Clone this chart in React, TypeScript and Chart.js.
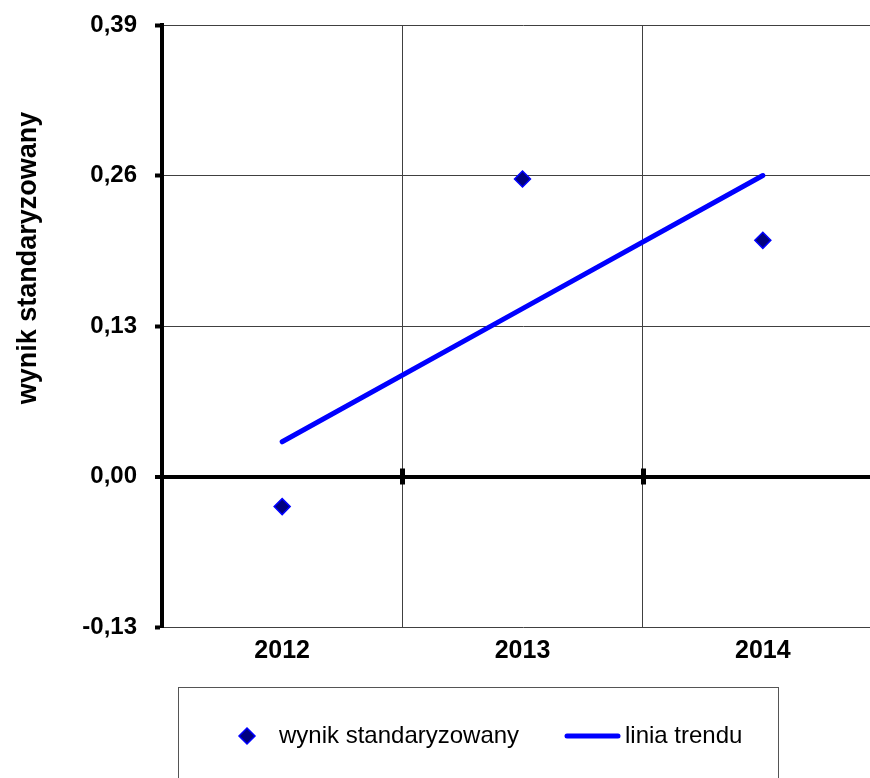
import React, { useEffect, useRef } from "react";
import { Chart, registerables } from "chart.js";

Chart.register(...registerables);

const categories = ["2012", "2013", "2014"];
const scoreValues = [-0.026, 0.257, 0.204];
const trendValues = [0.03, 0.145, 0.26];
const yTickValues = [-0.13, 0, 0.13, 0.26, 0.39];
const seriesLabels = ["wynik standaryzowany", "linia trendu"];
const yAxisTitle = "wynik standaryzowany";

const FONT = "Arial, 'Liberation Sans', sans-serif";
const W = 884;
const H = 790;

const zeroPad = (s: any) => {
  s.paddingLeft = 0;
  s.paddingRight = 0;
  s.paddingTop = 0;
  s.paddingBottom = 0;
};

const crossTicksPlugin = {
  id: "crossTicks",
  afterDatasetsDraw(chart: any) {
    const x = chart.scales.x;
    const y = chart.scales.y;
    const y0 = y.getPixelForValue(0);
    const ctx = chart.ctx;
    ctx.save();
    ctx.fillStyle = "#000";
    for (let i = 0; i < categories.length - 1; i++) {
      const px = (x.getPixelForValue(i) + x.getPixelForValue(i + 1)) / 2;
      ctx.fillRect(Math.round(px) - 2, y0 - 8, 5, 16);
    }
    ctx.restore();
  },
};

const yTitlePlugin = {
  id: "yTitle",
  afterDraw(chart: any) {
    const ctx = chart.ctx;
    ctx.save();
    ctx.translate(29, 258);
    ctx.rotate(-Math.PI / 2);
    ctx.font = `bold 27px ${FONT}`;
    ctx.fillStyle = "#000";
    ctx.textAlign = "center";
    ctx.textBaseline = "middle";
    ctx.fillText(yAxisTitle, 0, 0);
    ctx.restore();
  },
};

const legendBoxPlugin = {
  id: "legendBox",
  afterDraw(chart: any) {
    const ctx = chart.ctx;
    const ds = chart.data.datasets;
    const boxX = 178.5;
    const boxY = 687.5;
    const boxW = 600;
    const boxH = 100;
    const cy = 736;
    ctx.save();
    ctx.strokeStyle = "#555";
    ctx.lineWidth = 1;
    ctx.strokeRect(boxX, boxY, boxW, boxH);
    const mx = 247;
    const r = 8;
    ctx.beginPath();
    ctx.moveTo(mx, cy - r);
    ctx.lineTo(mx + r, cy);
    ctx.lineTo(mx, cy + r);
    ctx.lineTo(mx - r, cy);
    ctx.closePath();
    ctx.fillStyle = ds[0].backgroundColor;
    ctx.fill();
    ctx.strokeStyle = ds[0].borderColor;
    ctx.lineWidth = 1.5;
    ctx.stroke();
    ctx.font = `24px ${FONT}`;
    ctx.fillStyle = "#000";
    ctx.textAlign = "left";
    ctx.textBaseline = "middle";
    ctx.fillText(ds[0].label, 279, cy);
    ctx.beginPath();
    ctx.moveTo(567, cy);
    ctx.lineTo(618, cy);
    ctx.strokeStyle = ds[1].borderColor;
    ctx.lineWidth = 5;
    ctx.lineCap = "round";
    ctx.stroke();
    ctx.fillText(ds[1].label, 625, cy);
    ctx.restore();
  },
};

export default function App() {
  const ref = useRef<HTMLCanvasElement | null>(null);
  useEffect(() => {
    if (!ref.current) return;
    const chart = new Chart(ref.current, {
      type: "line",
      data: {
        labels: categories,
        datasets: [
          {
            label: seriesLabels[0],
            data: scoreValues,
            showLine: false,
            pointStyle: "rectRot",
            pointRadius: 8,
            pointHoverRadius: 8,
            backgroundColor: "#000080",
            borderColor: "#0000FF",
            pointBorderWidth: 1.5,
            order: 0,
          },
          {
            label: seriesLabels[1],
            data: trendValues,
            pointRadius: 0,
            borderColor: "#0000FF",
            backgroundColor: "#0000FF",
            borderWidth: 5,
            borderCapStyle: "round",
            tension: 0,
            fill: false,
            order: 1,
          },
        ],
      },
      options: {
        responsive: false,
        animation: false,
        events: [],
        layout: { autoPadding: false, padding: { top: 25, right: 1, bottom: 113, left: 0 } },
        plugins: {
          legend: { display: false },
          tooltip: { enabled: false },
          title: { display: false },
        },
        scales: {
          x: {
            type: "category",
            offset: true,
            afterFit: (s: any) => {
              s.height = 50;
              zeroPad(s);
            },
            grid: {
              offset: true,
              drawTicks: false,
              color: "#404040",
              lineWidth: 1,
            },
            border: { display: false },
            ticks: {
              padding: 9,
              color: "#000",
              font: { family: FONT, size: 25, weight: "bold" },
              maxRotation: 0,
              autoSkip: false,
            },
          },
          y: {
            type: "linear",
            min: -0.13,
            max: 0.39,
            afterFit: (s: any) => {
              s.width = 162;
              zeroPad(s);
            },
            afterBuildTicks: (s: any) => {
              s.ticks = yTickValues.map((v) => ({ value: v }));
            },
            grid: {
              color: (c: any) => (c.tick && c.tick.value === 0 ? "#000" : "#404040"),
              lineWidth: (c: any) => (c.tick && c.tick.value === 0 ? 4 : 1),
              tickColor: "#000",
              tickWidth: 4,
              tickLength: 7,
            },
            border: { display: true, color: "#000", width: 4 },
            ticks: {
              padding: 18,
              color: "#000",
              font: { family: FONT, size: 24, weight: "bold" },
              callback: (v: any) => Number(v).toFixed(2).replace(".", ","),
            },
          },
        },
      },
      plugins: [crossTicksPlugin, yTitlePlugin, legendBoxPlugin],
    });
    return () => chart.destroy();
  }, []);
  return (
    <div
      style={{
        position: "fixed",
        left: 0,
        top: 0,
        width: 870,
        height: 778,
        overflow: "hidden",
        background: "#fff",
      }}
    >
      <canvas ref={ref} width={W} height={H} style={{ display: "block", width: W, height: H }} />
    </div>
  );
}
